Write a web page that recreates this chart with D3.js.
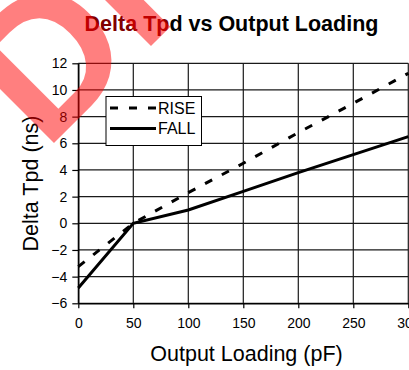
<!DOCTYPE html>
<html><head><meta charset="utf-8">
<script src="https://cdn.jsdelivr.net/npm/d3@7"></script>
<style>body{margin:0;background:#fff} svg{display:block}</style>
</head><body>
<svg id="c" width="409" height="370"></svg>
<script>
// Data
const loads = [0, 50, 100, 150, 200, 250, 300];
const rise  = [-3.25, 0, 2.3, 4.5, 6.8, 9.0, 11.25];
const fall  = [-4.85, 0, 1.0, 2.4, 3.8, 5.15, 6.5];
const xTicks = [0, 50, 100, 150, 200, 250, 300];
const yTicks = [-6, -4, -2, 0, 2, 4, 6, 8, 10, 12];
const seriesNames = ["RISE", "FALL"];
const titleParts = ["Delta Tp", "d vs Output Loading"];
const xLabel = "Output Loading (pF)";
const yLabel = "Delta Tpd (ns)";
const stampText = "DRAFT";

const FONT = "'Liberation Sans', Arial, Helvetica, sans-serif";
const svg = d3.select("#c").style("font-family", FONT);
const L = 78.3, T = 63.3, R = 408.3, B = 303.3;
const x = d3.scaleLinear().domain([0, 300]).range([L, R]);
const y = d3.scaleLinear().domain([-6, 12]).range([B, T]);

// grid
const g = svg.append("g");
g.selectAll("line.h").data(yTicks).join("line")
  .attr("x1", L).attr("x2", R).attr("y1", d => y(d)).attr("y2", d => y(d))
  .attr("stroke", "#1a1a1a").attr("stroke-width", 1.2);
g.selectAll("line.v").data(xTicks).join("line")
  .attr("y1", T).attr("y2", B).attr("x1", d => x(d)).attr("x2", d => x(d))
  .attr("stroke", "#1a1a1a").attr("stroke-width", 1.2);

// axes
const ax = svg.append("g").attr("transform", `translate(0,${B})`)
  .call(d3.axisBottom(x).tickValues(xTicks).tickSize(5).tickPadding(9.5).tickSizeOuter(0));
const ay = svg.append("g").attr("transform", `translate(${L},0)`)
  .call(d3.axisLeft(y).tickValues(yTicks).tickSize(6).tickPadding(5).tickSizeOuter(0));
[ax, ay].forEach(a => {
  a.select(".domain").attr("stroke", "#000").attr("stroke-width", 1.4);
  a.selectAll(".tick line").attr("stroke", "#000").attr("stroke-width", 1.2);
  a.selectAll(".tick text").attr("font-size", 14).attr("font-family", FONT).attr("fill", "#000");
});

// lines
const line = d3.line().x((d, i) => x(loads[i])).y(d => y(d));
svg.append("path").datum(rise).attr("d", line).attr("fill", "none")
  .attr("stroke", "#000").attr("stroke-width", 3).attr("stroke-dasharray", "8,11");
svg.append("path").datum(fall).attr("d", line).attr("fill", "none")
  .attr("stroke", "#000").attr("stroke-width", 3);

// legend
const lg = svg.append("g");
lg.append("rect").attr("x", 106).attr("y", 96.5).attr("width", 95.5).attr("height", 49)
  .attr("fill", "#fff").attr("stroke", "#000").attr("stroke-width", 1);
const legY = [108, 128.5];
seriesNames.forEach((n, i) => {
  lg.append("line").attr("x1", 110).attr("x2", 156).attr("y1", legY[i]).attr("y2", legY[i])
    .attr("stroke", "#000").attr("stroke-width", 3)
    .attr("stroke-dasharray", i === 0 ? "8,11" : null);
  lg.append("text").attr("x", 158).attr("y", legY[i] + 5.5).attr("font-size", 16).text(n);
});

// title
const tt = svg.append("text").attr("x", 231.5).attr("y", 31).attr("text-anchor", "middle")
  .attr("font-size", 21.5).attr("font-weight", "bold");
tt.append("tspan").attr("fill", "#800000").text(titleParts[0]);
tt.append("tspan").attr("fill", "#000").text(titleParts[1]);

// axis titles
svg.append("text").attr("x", 246.5).attr("y", 361).attr("text-anchor", "middle")
  .attr("font-size", 21.5).text(xLabel);
svg.append("text").attr("transform", "translate(38,183.5) rotate(-90)").attr("text-anchor", "middle")
  .attr("font-size", 21.5).text(yLabel);

// stamp
svg.append("text").attr("transform", "translate(45,152) rotate(-45)")
  .attr("font-size", 190).attr("font-weight", "bold").attr("fill", "rgba(255,0,0,0.5)")
  .text(stampText);
</script>
</body></html>
